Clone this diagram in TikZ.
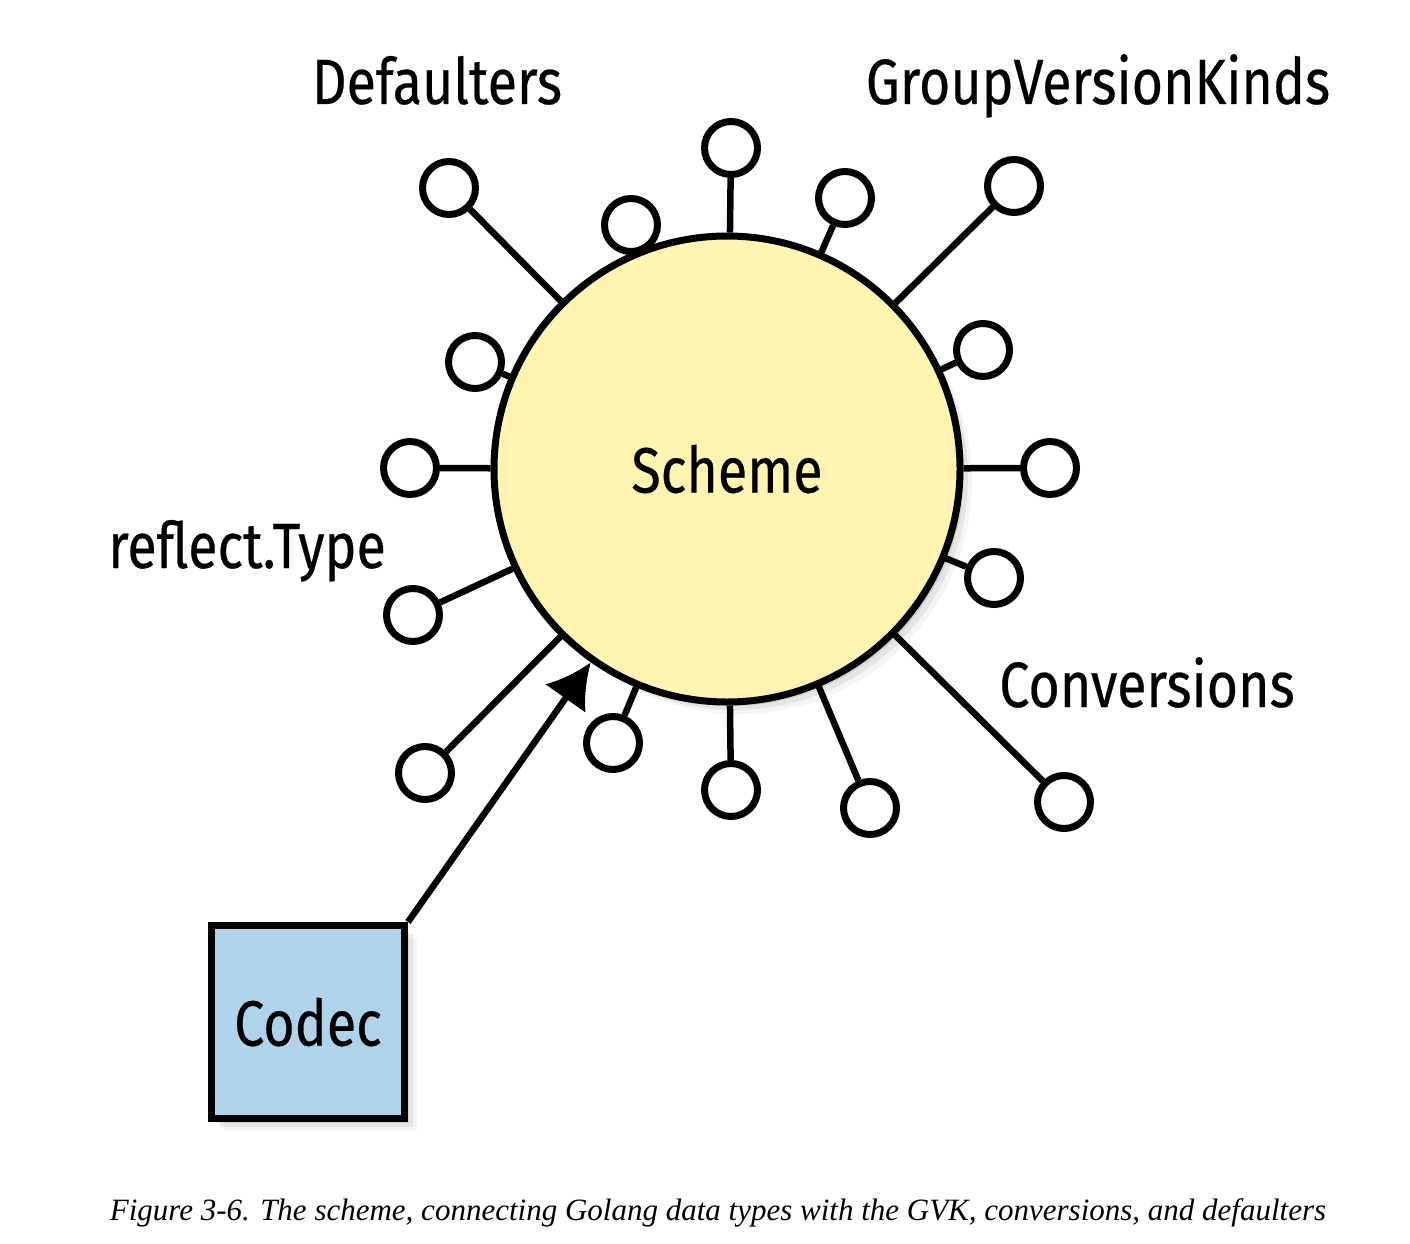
\documentclass[tikz,border=0pt]{standalone}
\usepackage{fontspec}
\setmainfont{Fira Sans}[FakeStretch=0.84, FakeBold=0.4]
\newfontfamily\capfont{Liberation Serif}
\usetikzlibrary{arrows.meta,shadows}
\definecolor{schemeYellow}{HTML}{FFF5B0}
\definecolor{codecBlue}{HTML}{B0D3EC}
\tikzset{%
  % soft shadow: a few offset copies
   softshadow/.style = {drop shadow={shadow xshift=4pt, shadow yshift=-4pt,
                                     opacity=0.18},
                        drop shadow={shadow xshift=8pt, shadow yshift=-8pt,
                                     opacity=0.14},
                        drop shadow={shadow xshift=12pt, shadow yshift=-12pt,
                                     opacity=0.08}},
  % Specifications for style of nodes:
       base/.style = {draw=black, line width=7pt, inner sep=0pt,
                      font=\fontsize{64}{70}\selectfont},
     scheme/.style = {base, circle, minimum size=466pt, fill=schemeYellow,
                      softshadow},
       port/.style = {base, circle, minimum size=53pt, fill=white},
      codec/.style = {base, rectangle, minimum size=193pt, fill=codecBlue,
                      softshadow},
    tagtext/.style = {anchor=base, inner sep=0pt,
                      font=\fontsize{64}{70}\selectfont},
  connector/.style = {draw=black, line width=6.5pt},
}

\begin{document}
\begin{tikzpicture}[x=1pt, y=-1pt]
  \useasboundingbox (0,0) rectangle (1410,1244);
  % Specification of nodes (position, etc.)
  \node (scheme) [scheme] at (727,469) {Scheme};
  \node (codec)  [codec]  at (308,1022) {Codec};
  % ports round the scheme, with their stubs
  \foreach \n/\x/\y in {1/731/148, 2/449/188, 3/631/225, 4/845/198,
                        5/1014/186, 6/475/362, 7/983/350, 8/410/468,
                        9/1050/468, 10/413/615, 11/994/578, 12/425/773,
                        13/613/743, 14/731/790, 15/870/808, 16/1064/802}
  {
    \node (p\n) [port] at (\x,\y) {};
    \draw[connector] (scheme) -- (p\n);
  }
  % Labels
  \node (defaulters)  [tagtext] at (437,104)  {Defaulters};
  \node (gvk)         [tagtext] at (1098,104) {GroupVersionKinds};
  \node (reflecttype) [tagtext] at (247,568)  {reflect.Type};
  \node (conversions) [tagtext] at (1147,707) {Conversions};
  % Codec feeds the scheme
  \draw[connector, -{Latex[width=50pt, length=44pt]}] (codec.north east) -- (scheme);
  % Caption
  \node (caption) [anchor=base, inner sep=0pt,
                   font=\capfont\itshape\fontsize{31}{36}\selectfont]
        at (718,1220)
        {Figure 3-6. The scheme, connecting Golang data types with the GVK, conversions, and defaulters};
\end{tikzpicture}
\end{document}
